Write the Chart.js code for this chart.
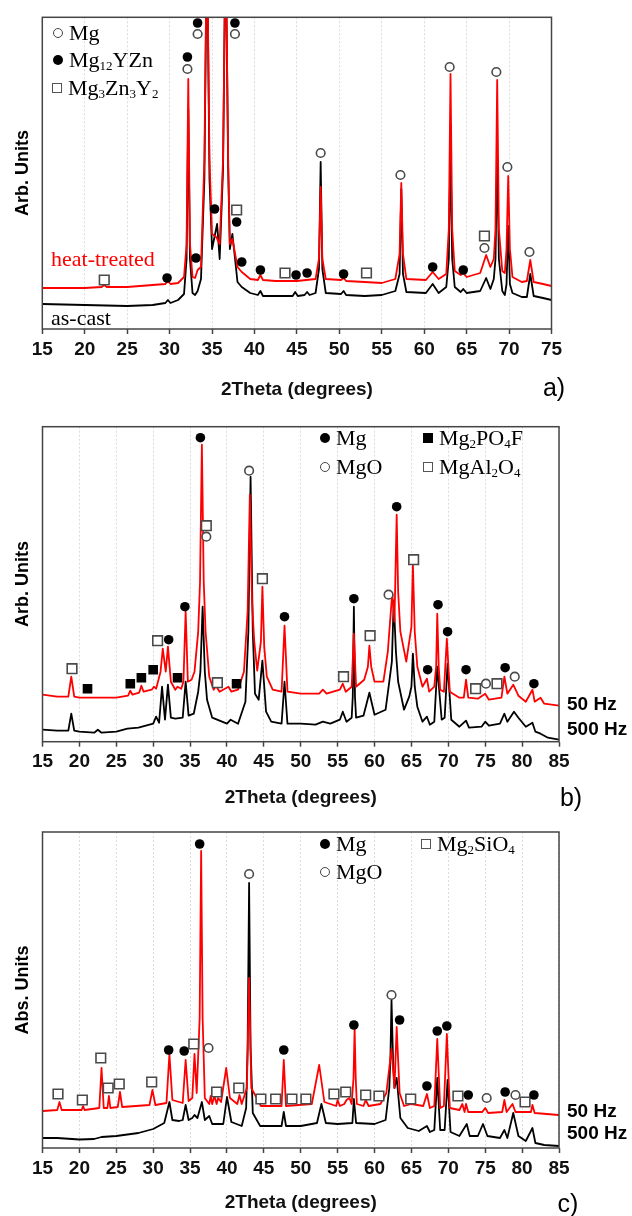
<!DOCTYPE html>
<html>
<head>
<meta charset="utf-8">
<script src="https://cdn.jsdelivr.net/npm/chart.js@4.4.1/dist/chart.umd.min.js"></script>
<style>
  body { margin: 0; background: #fff; }
  #wrap { position: relative; width: 632px; height: 1216px; overflow: hidden; }
  canvas { position: absolute; left: 0; }
  .t { position: absolute; white-space: nowrap; line-height: 1; transform: translateY(-50%); z-index: 2; }
  .serif { font-family: "Liberation Serif", "Times New Roman", serif; font-size: 22px; }
  .hz { font-family: "Liberation Sans", Arial, sans-serif; font-weight: bold; font-size: 19px; }
  .lg { display: flex; align-items: center; }
  .s { display: inline-block; box-sizing: border-box; margin-right: 6px; flex: none; }
  .oc { width: 10px; height: 10px; border: 1.6px solid #444; border-radius: 50%; background: #fff; }
  .fc { width: 10px; height: 10px; background: #000; border-radius: 50%; }
  .os { width: 10px; height: 10px; border: 1.5px solid #555; background: #fff; }
  .fs { width: 10px; height: 10px; background: #000; }
  .sb { font-size: 13px; position: relative; top: 5px; }
  .ytl { position: absolute; white-space: nowrap; line-height: 1; z-index: 2;
         font-family: "Liberation Sans", Arial, sans-serif; font-weight: bold; font-size: 18px;
         transform: translate(-50%, -50%) rotate(-90deg); }
  .pl { position: absolute; line-height: 1; z-index: 2; transform: translate(-50%, -50%);
        font-family: "Liberation Sans", Arial, sans-serif; font-size: 25px; }
</style>
</head>
<body>
<div id="wrap">
  <canvas id="chartA" width="632" height="403" style="top:0px"></canvas>
  <canvas id="chartB" width="632" height="406" style="top:405px"></canvas>
  <canvas id="chartC" width="632" height="405" style="top:811px"></canvas>

  <!-- panel a -->
  <div class="t serif lg" style="left:53px;top:33px"><span class="s oc"></span>Mg</div>
  <div class="t serif lg" style="left:53px;top:60px"><span class="s fc"></span>Mg<span class="sb">12</span>YZn</div>
  <div class="t serif lg" style="left:52px;top:88px"><span class="s os"></span>Mg<span class="sb">3</span>Zn<span class="sb">3</span>Y<span class="sb">2</span></div>
  <div class="t serif" style="left:51px;top:259px;color:#f00">heat-treated</div>
  <div class="t serif" style="left:51px;top:318px">as-cast</div>
  <div class="ytl" style="left:22px;top:173px">Arb. Units</div>
  <div class="pl" style="left:554px;top:387px">a)</div>

  <!-- panel b -->
  <div class="t serif lg" style="left:320px;top:438px"><span class="s fc"></span>Mg</div>
  <div class="t serif lg" style="left:320px;top:467px"><span class="s oc"></span>MgO</div>
  <div class="t serif lg" style="left:423px;top:438px"><span class="s fs"></span>Mg<span class="sb">2</span>PO<span class="sb">4</span>F</div>
  <div class="t serif lg" style="left:423px;top:467px"><span class="s os"></span>MgAl<span class="sb">2</span>O<span class="sb">4</span></div>
  <div class="t hz" style="left:567px;top:703px">50 Hz</div>
  <div class="t hz" style="left:567px;top:728px">500 Hz</div>
  <div class="ytl" style="left:22px;top:584px">Arb. Units</div>
  <div class="pl" style="left:571px;top:797px">b)</div>

  <!-- panel c -->
  <div class="t serif lg" style="left:320px;top:844px"><span class="s fc"></span>Mg</div>
  <div class="t serif lg" style="left:320px;top:872px"><span class="s oc"></span>MgO</div>
  <div class="t serif lg" style="left:421px;top:844px"><span class="s os"></span>Mg<span class="sb">2</span>SiO<span class="sb">4</span></div>
  <div class="t hz" style="left:567px;top:1110px">50 Hz</div>
  <div class="t hz" style="left:567px;top:1132px">500 Hz</div>
  <div class="ytl" style="left:22px;top:990px">Abs. Units</div>
  <div class="pl" style="left:568px;top:1203px">c)</div>
</div>

<script>
// ---------- data (2Theta in degrees, intensity in arbitrary units) ----------
const ticksA = [15, 20, 25, 30, 35, 40, 45, 50, 55, 60, 65, 70, 75];
const ticksBC = [15, 20, 25, 30, 35, 40, 45, 50, 55, 60, 65, 70, 75, 80, 85];

// panel a
const asCast = [[15,25],[20,24],[25,23],[28,24],[29.5,26],[29.8,29],[30.1,26],[31,29],[31.7,35],[32.0,70],
  [32.2,220],[32.4,70],[32.7,36],[33.0,34],[33.3,38],[33.7,50],[34.1,150],[34.4,400],[34.7,150],[35.0,80],
  [35.6,105],[35.9,70],[36.3,160],[36.6,400],[36.9,160],[37.1,80],[37.4,95],[38.0,47],[38.5,42],[39.5,36],
  [40.4,34],[40.7,38],[41.0,33],[42.5,33],[44.5,33],[44.8,37],[45.1,33],[45.9,34],[46.2,37],[46.5,34],
  [47.2,36],[47.6,60],[47.8,167],[48.0,60],[48.4,36],[50.2,35],[50.5,38],[50.8,34],[53,33],[55,34],
  [56.6,38],[57.1,55],[57.3,140],[57.5,55],[57.9,37],[60.2,36],[61.0,45],[61.7,36],[62.6,42],[62.9,70],
  [63.1,185],[63.3,70],[63.6,42],[64.3,37],[64.6,40],[65.0,36],[66.6,38],[67.3,51],[67.8,40],[68.2,50],
  [68.4,70],[68.6,174],[68.8,70],[69.2,38],[69.5,34],[69.7,45],[69.9,103],[70.1,45],[70.4,36],[71.5,32],
  [72.1,32],[72.5,55],[72.9,33],[74,31],[75,29]];
const heatTreated = [[15,41],[20,41],[22.0,42],[22.3,44],[22.6,42],[25,42],[28,44],[29.5,45],[29.8,48],[30.1,45],
  [31,46],[31.7,52],[32.0,85],[32.2,250],[32.4,85],[32.7,52],[33.0,51],[33.3,59],[33.7,62],[34.1,170],
  [34.4,400],[34.7,170],[35.0,95],[35.5,92],[35.9,85],[36.3,170],[36.6,400],[36.9,170],[37.1,85],[37.4,90],
  [38.0,62],[38.5,57],[39.5,50],[40.4,49],[40.7,54],[41.0,49],[42.5,48],[45,48],[47.2,50],[47.6,70],
  [47.8,142],[48.0,70],[48.4,50],[50.2,49],[50.5,51],[50.8,48],[53,47],[55,46],[56.6,50],[57.1,75],
  [57.3,146],[57.5,75],[57.9,50],[60.2,49],[61.0,57],[61.7,50],[62.6,55],[62.9,100],[63.1,255],[63.3,100],
  [63.6,58],[64.3,54],[64.6,56],[65.0,52],[66.6,56],[67.3,74],[67.8,62],[68.2,70],[68.4,100],[68.6,249],
  [68.8,100],[69.2,58],[69.5,56],[69.7,80],[69.9,153],[70.1,80],[70.4,52],[71.5,47],[72.1,48],[72.5,69],
  [72.9,47],[74,45],[75,43]];
const aMg = [[32.1,260],[33.3,295],[37.7,295],[47.8,176],[57.2,154],[63.0,262],[68.5,257],[69.8,162],[67.1,81],[72.4,77]];
const aMg12YZn = [[32.1,272],[33.3,306],[37.7,306],[29.7,51],[33.1,71],[35.3,120],[37.9,107],[38.5,67],
  [40.7,59],[44.9,54],[46.2,56],[50.5,55],[61.0,62],[64.6,59]];
const aMg3Zn3Y2 = [[22.3,49],[37.9,119],[43.6,56],[53.2,56],[67.1,93]];

// panel b
const b500 = [[15,12],[17,11],[18.5,11],[18.9,28],[19.3,11],[20,10],[22,9],[22.5,12],[23,9],[25,10],
  [26.5,13],[28,14],[30,18],[30.4,25],[30.8,19],[31.2,55],[31.6,22],[32.0,57],[32.4,24],[33,23],
  [34.0,24],[34.4,60],[34.8,26],[35.5,28],[36.1,50],[36.4,70],[36.7,135],[37.0,70],[37.3,42],[38,24],
  [40,18],[40.5,22],[41.5,18],[42.5,40],[42.9,110],[43.2,265],[43.5,110],[43.8,48],[44.3,42],[44.8,81],
  [45.3,30],[46,20],[47.4,18],[47.8,60],[48.2,18],[50,18],[52,17],[53,20],[54,18],[55.3,22],
  [55.7,30],[56.2,20],[56.9,24],[57.05,45],[57.2,135],[57.35,45],[57.5,24],[58.5,26],[59.3,49],[60.0,27],
  [61.5,32],[62.0,60],[62.35,80],[62.6,141],[62.9,90],[63.2,60],[64.0,32],[64.7,45],[65.0,55],[65.2,88],
  [65.45,55],[65.8,35],[66.5,20],[67.1,25],[67.5,17],[68.1,20],[68.5,75],[69.1,22],[69.5,24],[69.9,78],
  [70.4,22],[71.5,15],[72.4,21],[72.8,14],[74.5,15],[75.0,20],[75.5,16],[77.0,18],[77.6,28],[78.0,20],
  [78.9,30],[79.5,24],[80.5,15],[81.4,19],[81.8,10],[82.5,8],[83.5,4],[85,2]];
const b50 = [[15,47],[17,45],[18.5,45],[18.9,65],[19.3,45],[20,44],[25,44],[26.6,46],[26.9,51],[27.2,47],
  [28.1,49],[28.4,56],[28.7,50],[29.8,52],[30.1,55],[30.4,53],[31.0,70],[31.3,93],[31.7,70],[32.0,95],
  [32.4,60],[33.0,52],[33.3,55],[33.8,53],[34.1,60],[34.4,130],[34.7,60],[35.2,62],[35.6,70],[36.1,110],
  [36.35,160],[36.6,297],[36.85,160],[37.1,110],[37.6,65],[38.2,52],[38.5,56],[39.0,50],[40.2,55],[40.6,50],
  [41.5,52],[42.3,70],[42.8,130],[43.1,247],[43.4,140],[43.7,100],[44.1,71],[44.6,100],[44.8,155],[45.05,95],
  [45.4,65],[46.2,52],[47.4,50],[47.8,116],[48.2,50],[50,48],[52.5,48],[53.0,52],[53.5,48],[55.3,52],
  [55.7,58],[56.1,50],[56.9,55],[57.2,108],[57.5,55],[58.6,62],[59.1,75],[59.3,96],[59.55,75],[60.0,60],
  [61.2,60],[61.8,90],[62.4,149],[62.7,120],[63.0,227],[63.2,150],[63.5,110],[64.3,80],[65.0,115],[65.2,177],
  [65.45,110],[65.8,75],[66.5,55],[67.1,63],[67.4,50],[68.1,55],[68.35,75],[68.5,128],[68.7,75],[68.9,52],
  [69.4,50],[69.8,103],[70.2,50],[71.5,44],[72.1,44],[72.4,62],[72.7,44],[74,43],[75.0,48],[75.5,42],
  [77.2,44],[77.6,65],[78.0,48],[78.8,57],[79.5,46],[80.5,40],[81.4,52],[81.7,40],[82.5,44],[83,38],[85,36]];
const bMg = [[36.4,304],[32.1,102],[34.3,135],[47.8,125],[57.2,143],[63.0,235],[68.6,137],[69.9,110],
  [67.2,72],[72.4,72],[77.7,74],[81.6,58]];
const bMgO = [[43.0,271],[37.2,205],[61.9,147],[75.1,58],[79.0,65]];
const bMg2PO4F = [[21.1,53],[26.9,58],[28.4,64],[30.0,72],[33.3,64],[41.3,58]];
const bMgAl2O4 = [[37.2,216],[19.0,73],[30.6,101],[38.7,59],[44.8,163],[55.8,65],[59.4,106],[65.3,182],[73.7,53],[76.6,58]];

// panel c
const c500 = [[15,10],[17,10],[20,8.5],[22,9],[23,11],[25,12],[28,15],[30,19],[31.5,25],[32.2,46],
  [32.6,28],[33.5,27],[34.0,28],[34.4,43],[34.8,28],[35.3,30],[35.6,33],[36.0,30],[36.6,46],[37.0,28],
  [37.6,32],[38.0,24],[39.5,24],[40.0,51],[40.6,26],[42,22],[42.6,40],[42.8,100],[43.0,265],[43.2,100],
  [43.5,35],[44.5,22],[47,22],[47.4,22],[47.7,36],[48.0,22],[50,22],[52.2,25],[52.8,44],[53.4,25],
  [55,24],[57.0,25],[57.2,49],[57.5,25],[60,24],[61.5,28],[62.0,60],[62.15,90],[62.3,148],[62.5,90],
  [62.7,60],[63.0,70],[63.5,30],[64.5,20],[66,17],[67.1,22],[67.5,16],[68.1,18],[68.5,70],[68.9,18],
  [69.5,18],[69.9,68],[70.3,16],[71.5,12],[72.5,24],[72.9,12],[74,12],[74.7,24],[75.3,12],[77,10],
  [77.6,18],[78.0,10],[78.8,35],[79.5,12],[80.5,7],[81.4,20],[81.8,5],[83,3],[85,2]];
const c50 = [[15,37],[17.0,38],[17.3,46],[17.6,38],[20.3,38],[20.5,42],[20.7,38],[22.7,40],[23.0,80],[23.3,40],
  [23.8,40],[24.0,52],[24.2,40],[25.2,41],[25.5,56],[25.8,41],[29.5,43],[29.9,58],[30.3,43],[31.8,45],
  [32.2,94],[32.6,48],[34.0,45],[34.4,88],[34.8,47],[35.3,50],[35.6,94],[35.9,55],[36.3,130],[36.5,297],
  [36.7,130],[37.0,50],[37.6,44],[37.8,52],[38.0,44],[38.3,52],[38.6,44],[38.8,50],[39.2,46],[39.9,80],
  [40.4,50],[41.4,44],[41.7,53],[42.0,44],[42.7,60],[43.0,170],[43.3,60],[44.6,42],[46.5,42],[47.4,42],
  [47.7,88],[48.0,42],[51.5,44],[52.5,83],[53.2,46],[54.8,42],[55.0,48],[55.3,42],[55.9,44],[56.2,48],
  [56.6,50],[56.9,44],[57.15,70],[57.3,119],[57.45,70],[57.6,44],[58.5,42],[58.8,48],[59.2,42],[60.8,44],
  [61.6,55],[62.3,99],[62.7,60],[63.0,121],[63.4,55],[64,42],[65.0,44],[66.6,42],[67.1,54],[67.5,40],
  [68.1,42],[68.5,109],[68.9,40],[69.4,42],[69.8,114],[70.2,40],[71.5,38],[71.9,44],[72.2,36],[72.4,44],
  [72.7,36],[74.6,36],[75.0,40],[75.4,35],[77.3,36],[77.6,48],[77.9,36],[78.7,44],[79.1,36],[81.2,36],
  [81.4,43],[81.7,35],[85,33]];
const cMg = [[36.3,304],[32.1,98],[34.2,97],[47.7,98],[57.2,123],[63.4,128],[67.1,62],[68.5,117],[69.8,122],
  [72.7,53],[77.7,56],[81.6,53]];
const cMgO = [[43.0,274],[37.5,100],[62.3,153],[75.2,50],[79.1,53]];
const cMg2SiO4 = [[17.1,54],[20.4,48],[22.9,90],[23.9,60],[25.4,64],[29.8,66],[35.5,104],[38.6,56],[41.6,60],
  [44.6,49],[46.6,49],[48.8,49],[50.7,49],[54.5,54],[56.1,56],[58.8,53],[60.6,52],[64.9,49],[71.3,52],[80.4,46]];

// ---------- helpers ----------
const sans = "'Liberation Sans', Arial, sans-serif";

function pts(arr) {
  return arr.map(p => ({ x: p[0], y: p[1] }));
}

function curve(arr, color, order) {
  return { data: pts(arr), borderColor: color, borderWidth: 1.8, pointRadius: 0, tension: 0,
           borderJoinStyle: 'round', order: order };
}

// kind: 'oc' open circle, 'fc' filled circle, 'os' open square, 'fs' filled square
function marks(arr, kind) {
  const square = kind === 'os' || kind === 'fs';
  const filled = kind === 'fc' || kind === 'fs';
  return {
    data: pts(arr), showLine: false, order: 0,
    pointStyle: square ? 'rect' : 'circle',
    pointRadius: square ? 6.8 : (filled ? 4.8 : 4.3),
    pointBackgroundColor: filled ? '#000' : '#fff',
    pointBorderColor: filled ? '#000' : '#4a4a4a',
    pointBorderWidth: filled ? 0 : 1.6
  };
}

// box round the plot area
const frame = {
  id: 'frame',
  afterDraw(chart) {
    const ctx = chart.ctx, a = chart.chartArea;
    ctx.save();
    ctx.strokeStyle = '#444';
    ctx.lineWidth = 1.5;
    ctx.strokeRect(a.left, a.top, a.right - a.left, a.bottom - a.top);
    ctx.restore();
  }
};

function panel(id, datasets, o) {
  return new Chart(document.getElementById(id), {
    type: 'line',
    data: { datasets: datasets },
    options: {
      responsive: false,
      animation: false,
      events: [],
      layout: { padding: { left: o.left, right: o.right, top: o.top, bottom: 0 } },
      plugins: { legend: { display: false }, tooltip: { enabled: false } },
      scales: {
        x: {
          type: 'linear', min: o.min, max: o.max,
          afterBuildTicks: s => { s.ticks = o.ticks.map(v => ({ value: v })); },
          afterFit: s => { s.height = o.axisH; },
          ticks: { font: { family: sans, size: 19, weight: 'bold' }, color: '#111', padding: 4, maxRotation: 0, autoSkip: false },
          grid: { color: '#dcdcdc', lineWidth: 1, tickLength: 5, tickColor: '#444', tickWidth: 1.5 },
          border: { display: false, dash: [2, 2] },
          title: { display: true, text: '2Theta (degrees)', color: '#111',
                   font: { family: sans, size: 19, weight: 'bold' }, padding: { top: 0, bottom: 2 } }
        },
        y: { display: false, min: 0, max: o.ymax }
      }
    },
    plugins: [frame]
  });
}

// ---------- charts ----------
panel('chartA', [
  marks(aMg, 'oc'), marks(aMg12YZn, 'fc'), marks(aMg3Zn3Y2, 'os'),
  curve(heatTreated, '#ff0000', 1), curve(asCast, '#000000', 2)
], { left: 42.3, right: 80.5, top: 17.3, axisH: 74, min: 15, max: 75, ticks: ticksA, ymax: 311.7 });

panel('chartB', [
  marks(bMg, 'fc'), marks(bMgO, 'oc'), marks(bMg2PO4F, 'fs'), marks(bMgAl2O4, 'os'),
  curve(b50, '#ff0000', 1), curve(b500, '#000000', 2)
], { left: 42.5, right: 73, top: 21.7, axisH: 69.3, min: 15, max: 85, ticks: ticksBC, ymax: 315 });

panel('chartC', [
  marks(cMg, 'fc'), marks(cMgO, 'oc'), marks(cMg2SiO4, 'os'),
  curve(c50, '#ff0000', 1), curve(c500, '#000000', 2)
], { left: 42.5, right: 73, top: 21, axisH: 68, min: 15, max: 85, ticks: ticksBC, ymax: 316 });
</script>
</body>
</html>
